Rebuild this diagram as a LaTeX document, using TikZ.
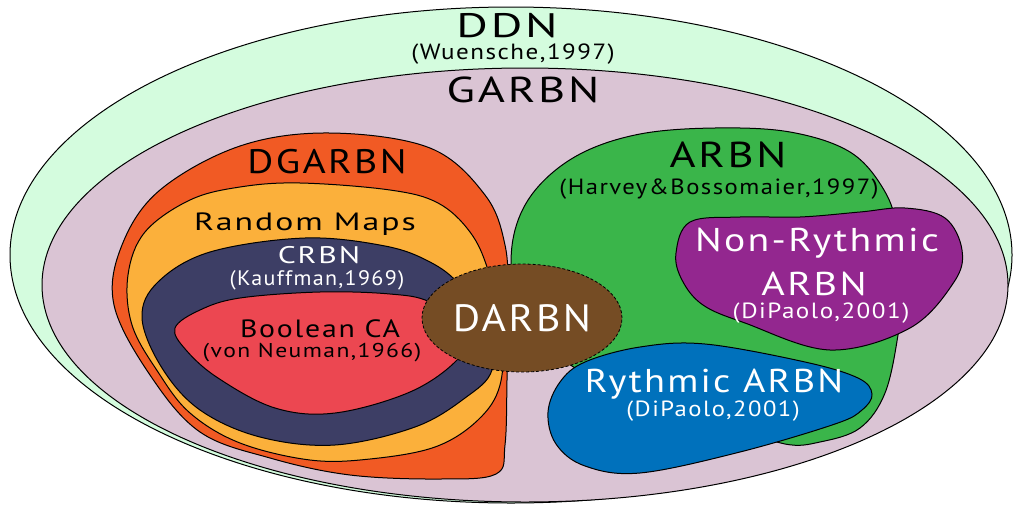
\documentclass[tikz,border=0pt]{standalone}
\usepackage{graphicx}
\usepackage{fontspec}
\setmainfont{PT Sans}[LetterSpace=6]
\usetikzlibrary{shapes.geometric}

\definecolor{ddncol}{RGB}{212,252,222}
\definecolor{garbncol}{RGB}{218,196,212}
\definecolor{dgarbncol}{RGB}{241,90,36}
\definecolor{rmapcol}{RGB}{251,176,59}
\definecolor{crbncol}{RGB}{61,62,101}
\definecolor{boolcol}{RGB}{236,71,81}
\definecolor{darbncol}{RGB}{117,76,36}
\definecolor{arbncol}{RGB}{58,181,74}
\definecolor{nrcol}{RGB}{147,39,143}
\definecolor{rcol}{RGB}{0,113,188}

% font size helper and horizontal stretch helper
\newcommand{\fs}[1]{\fontsize{#1}{#1}\selectfont}
\newcommand{\wide}[2]{\scalebox{#1}[1]{#2}}

\tikzset{
  region/.style={draw=black, line width=1pt, fill=#1},
  lbl/.style={inner sep=0pt, text=black},
  wlbl/.style={inner sep=0pt, text=white},
}

\begin{document}
\begin{tikzpicture}[x=1pt, y=-1pt]
\useasboundingbox (0,0) rectangle (1016,506);

% outer sets
\draw[region=ddncol] (511,255) ellipse [x radius=501, y radius=248];
\draw[region=garbncol] (525,285) ellipse [x radius=483, y radius=217];

% DGARBN and its nested sets
\draw[region=dgarbncol] plot[smooth cycle, tension=0.6] coordinates {
  (330,133) (430,148) (485,195) (505,245) (508,300) (507,380) (505,445)
  (496,474) (440,479) (350,475) (270,458) (200,432) (150,375) (114,305)
  (122,245) (160,190) (240,146)};
\draw[region=rmapcol] plot[smooth cycle, tension=0.6] coordinates {
  (300,183) (390,190) (438,203) (470,232) (488,270) (502,330) (500,385)
  (478,420) (435,447) (370,459) (310,460) (240,443) (190,413) (158,372)
  (132,325) (128,275) (145,232) (190,200) (240,187)};
\draw[region=crbncol] plot[smooth cycle, tension=0.6] coordinates {
  (305,238) (385,246) (430,262) (460,285) (488,325) (492,370) (465,398)
  (415,427) (335,445) (260,437) (200,410) (162,368) (142,318) (158,282)
  (210,252)};
\draw[region=boolcol] plot[smooth cycle, tension=0.6] coordinates {
  (175,328) (200,310) (240,298) (320,292) (390,294) (430,302) (470,330)
  (457,360) (410,392) (335,413) (275,408) (218,378) (186,350)};

% ARBN and its nested sets
\draw[region=arbncol] plot[smooth cycle, tension=0.6] coordinates {
  (715,128) (790,132) (850,152) (884,190) (898,232) (902,290) (898,335)
  (885,393) (860,428) (820,442) (785,444) (730,425) (630,395) (575,368)
  (535,332) (513,280) (515,230) (537,188) (580,154) (640,134)};
\draw[region=nrcol] plot[smooth cycle, tension=0.6] coordinates {
  (690,222) (740,217) (800,217) (860,212) (905,208) (945,218) (962,250)
  (954,282) (910,328) (830,350) (745,323) (703,305) (682,280) (676,253)};
\draw[region=rcol] plot[smooth cycle, tension=0.6] coordinates {
  (548,412) (560,382) (585,362) (640,347) (705,344) (805,362) (858,378)
  (872,394) (862,410) (835,424) (740,452) (640,473) (585,466) (556,444)};

% DARBN on top
\node[ellipse, draw=black, line width=0.8pt, densely dashed, fill=darbncol,
      minimum width=200pt, minimum height=108pt, inner sep=0pt,
      text=white, font=\fs{38}] (darbn) at (522,318) {\wide{1.1}{DARBN}};

% labels
\node[lbl, font=\fs{34}] (ddn) at (507,26) {\wide{1.42}{DDN}};
\node[lbl, font=\fs{22}] (ddnref) at (513,54) {\wide{1.14}{(Wuensche,1997)}};
\node[lbl, font=\fs{36}] (garbn) at (523,90) {\wide{1.29}{GARBN}};
\node[lbl, font=\fs{34}] (dgarbn) at (327,162) {\wide{1.17}{DGARBN}};
\node[lbl, font=\fs{25}] (rmap) at (305,224) {\wide{1.35}{Random Maps}};
\node[wlbl, font=\fs{24}] (crbn) at (319,255) {\wide{1.32}{CRBN}};
\node[wlbl, font=\fs{21}] (crbnref) at (317,280) {\wide{1.05}{(Kauffman,1969)}};
\node[lbl, font=\fs{25}] (bool) at (320,329) {\wide{1.19}{Boolean CA}};
\node[lbl, font=\fs{20}] (boolref) at (312,353) {\wide{1.18}{(von Neuman,1966)}};
\node[lbl, font=\fs{36}] (arbn) at (728,155) {\wide{1.24}{ARBN}};
\node[lbl, font=\fs{22}] (arbnref) at (719,189) {\wide{1.12}{(Harvey\&Bossomaier,1997)}};
\node[wlbl, font=\fs{33}] (nr) at (817,243) {\wide{1.2}{Non-Rythmic}};
\node[wlbl, font=\fs{33}] (nrarbn) at (814,284) {\wide{1.22}{ARBN}};
\node[wlbl, font=\fs{22}] (nrref) at (821,313) {\wide{1.14}{(DiPaolo,2001)}};
\node[wlbl, font=\fs{33}] (rarbn) at (714,384) {\wide{1.16}{Rythmic ARBN}};
\node[wlbl, font=\fs{22}] (rref) at (713,411) {\wide{1.12}{(DiPaolo,2001)}};
\end{tikzpicture}
\end{document}
